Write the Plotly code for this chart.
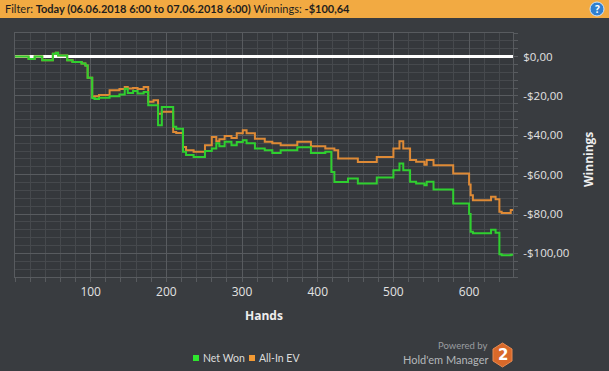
import plotly.graph_objects as go

# ---- data ----
hands = [0, 18, 26, 36, 50, 54, 57, 69, 76, 88, 93, 96, 102, 105, 111, 125, 138, 145, 149, 156,
         162, 170, 176, 183, 189, 194, 209, 213, 222, 226, 236, 251, 260, 266, 270, 277, 286, 293,
         301, 306, 317, 330, 340, 351, 373, 391, 410, 418, 422, 427, 440, 453, 478, 500, 508, 513,
         522, 530, 541, 544, 553, 579, 600, 602, 605, 629, 635, 640, 643, 655, 658]
net_won = [0, -1.2, 0, -1.9, 1.5, 2.0, 0.6, -1.9, -2.7, -3.5, -4.5, -10.8, -21.0, -21.5, -20.9,
           -20.1, -19.3, -16.3, -18.5, -17.5, -18.7, -18.0, -24.7, -24.7, -34.9, -25.6, -35.7,
           -36.6, -48.4, -50.0, -51.0, -48.0, -46.7, -44.0, -45.5, -43.3, -45.0, -43.4, -42.5,
           -44.0, -46.7, -47.6, -49.0, -47.6, -46.1, -49.0, -48.4, -58.6, -63.7, -63.7, -62.0,
           -64.5, -61.4, -57.7, -54.3, -57.7, -63.6, -64.5, -65.4, -63.6, -67.5, -74.6, -80.0,
           -89.0, -89.8, -88.0, -89.5, -100.5, -101.0, -100.64, -100.64]
all_in_ev = [0, -1.2, 0, -1.9, 1.5, 2.0, 0.6, -1.9, -2.7, -3.5, -4.5, -10.8, -20.5, -20.1, -19.5,
             -17.1, -16.5, -15.4, -16.2, -16.0, -16.5, -15.4, -23.0, -22.2, -29.0, -28.0, -38.3,
             -38.8, -45.9, -47.6, -48.4, -45.0, -40.8, -43.0, -42.0, -40.3, -41.3, -39.0, -37.4,
             -39.0, -41.7, -43.3, -44.0, -45.0, -43.3, -45.6, -46.7, -46.7, -47.6, -51.8, -51.8,
             -53.5, -51.0, -46.7, -43.0, -46.7, -52.6, -53.4, -55.0, -52.6, -55.2, -59.4, -65.0,
             -70.4, -73.0, -71.2, -72.5, -78.9, -79.5, -78.0, -78.0]

x_ticks = [100, 200, 300, 400, 500, 600]
y_ticks = [0, -20, -40, -60, -80, -100]
y_tick_labels = ["$0,00", "-$20,00", "-$40,00", "-$60,00", "-$80,00", "-$100,00"]
series_names = ["Net Won", "All-In EV"]

GREEN = "#2fcf2f"
ORANGE = "#de8a36"
FONT = "Open Sans"

# plot area in pixels
L, R, T, B = 15, 513, 33, 277
W, H = 609, 371
def px(x):
    return (x - L) / (R - L)
def py(y):
    return (B - y) / (B - T)

fig = go.Figure()
fig.add_trace(go.Scatter(x=hands, y=all_in_ev, mode="lines", name=series_names[1],
                         line=dict(color=ORANGE, width=2, shape="hv"),
                         showlegend=False, hoverinfo="skip"))
fig.add_trace(go.Scatter(x=hands, y=net_won, mode="lines", name=series_names[0],
                         line=dict(color=GREEN, width=2, shape="hv"),
                         showlegend=False, hoverinfo="skip"))

GRID_MAJ = "#585b5f"
GRID_MIN = "#46494d"
fig.update_layout(
    width=W, height=H,
    margin=dict(l=L, r=W - R, t=T, b=H - B, pad=0, autoexpand=False),
    paper_bgcolor="#393c40",
    plot_bgcolor="#35383c",
    font=dict(family=FONT, color="#e2e2e2", size=12),
    showlegend=False,
    xaxis=dict(range=[0, 658], tickmode="array", tickvals=x_ticks, showgrid=True, automargin=False,
               gridcolor=GRID_MAJ, gridwidth=1, zeroline=False,
               showline=True, mirror=True, linecolor=GRID_MAJ, linewidth=1,
               ticks="outside", ticklen=4, tickcolor=GRID_MAJ,
               tickfont=dict(size=12, color="#e2e2e2"),
               minor=dict(tickmode="linear", tick0=0, dtick=20, showgrid=True, gridcolor=GRID_MIN,
                          ticks="outside", ticklen=4, tickcolor=GRID_MAJ)),
    yaxis=dict(range=[-112, 12], side="right", tickmode="array", tickvals=y_ticks, ticktext=y_tick_labels,
               showgrid=True, gridcolor=GRID_MAJ, gridwidth=1, automargin=False,
               zeroline=True, zerolinecolor="#ffffff", zerolinewidth=3,
               showline=True, mirror=True, linecolor=GRID_MAJ, linewidth=1,
               ticks="outside", ticklen=4, tickcolor=GRID_MAJ, ticklabelstandoff=3,
               tickfont=dict(size=11.5, color="#e2e2e2"),
               minor=dict(tickmode="linear", tick0=0, dtick=4, showgrid=True, gridcolor=GRID_MIN,
                          ticks="outside", ticklen=4, tickcolor=GRID_MAJ)),
)

def note(x, y, text, size, color, family=FONT, xanchor="center", angle=0):
    fig.add_annotation(xref="paper", yref="paper", x=px(x), y=py(y), xanchor=xanchor, yanchor="middle",
                       showarrow=False, textangle=angle, text=text,
                       font=dict(family=family, size=size, color=color))

# header bar
fig.add_shape(type="rect", xref="paper", yref="paper", x0=px(0), x1=px(W), y0=py(18), y1=py(0),
              fillcolor="#f2aa42", line=dict(width=0), layer="above")
note(3, 9, "Filter: <b>Today (06.06.2018 6:00 to 07.06.2018 6:00)</b> Winnings: <b>-$100,64</b>",
     11, "#1e1e1e", family="Lato", xanchor="left")
# help icon
fig.add_shape(type="circle", xref="paper", yref="paper", x0=px(590), x1=px(604), y0=py(16), y1=py(2),
              fillcolor="#2f7fd0", line=dict(color="#cfe3f7", width=1), layer="above")
note(597, 9, "<b>?</b>", 10, "#ffffff")

# axis titles
note(264, 315, "<b>Hands</b>", 12, "#eeeeee")
note(588, 160, "<b>Winnings</b>", 12, "#eeeeee", angle=-90)

# legend (manual, to match spacing)
legend_items = [(series_names[0], "#2ee62e", 193), (series_names[1], "#f39a34", 249)]
for name, col, lx in legend_items:
    fig.add_shape(type="rect", xref="paper", yref="paper", x0=px(lx), x1=px(lx + 6),
                  y0=py(361), y1=py(355), fillcolor=col, line=dict(width=0), layer="above")
    note(lx + 8, 358, name, 10.5, "#dddddd", family="Lato", xanchor="left")

# powered by logo
note(489, 345, "Powered by", 9.5, "#9a9da0", family="Lato", xanchor="right")
note(490, 359.5, "Hold'em Manager", 11, "#b4b7ba", family="Lato", xanchor="right")
hx0, hx1, hy0, hy1 = px(493), px(512), py(343), py(367)
xm = (hx0 + hx1) / 2
q1 = hy0 + (hy1 - hy0) * 0.25
q3 = hy0 + (hy1 - hy0) * 0.75
fig.add_shape(type="path", xref="paper", yref="paper",
              path=f"M {xm} {hy0} L {hx1} {q1} L {hx1} {q3} L {xm} {hy1} L {hx0} {q3} L {hx0} {q1} Z",
              fillcolor="#d9692a", line=dict(color="#e88a50", width=1), layer="above")
note(502.5, 355, "<b>2</b>", 15, "#ffffff", family="DejaVu Sans")

fig.write_html("out.html", config={"displayModeBar": False},
               post_script="document.body.style.margin='0';document.body.style.overflow='hidden';")
